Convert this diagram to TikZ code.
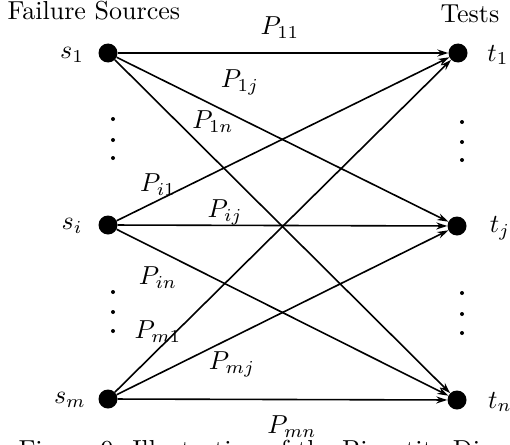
\documentclass[tikz,border=0pt]{standalone}
\usetikzlibrary{arrows.meta}
\begin{document}
\begin{tikzpicture}[x=1pt,y=-1pt,
  vert/.style={circle,fill=black,inner sep=0pt,minimum size=19pt},
  edge/.style={line width=1.6pt,-{Stealth[length=11pt,width=7pt]}},
  lbl/.style={inner sep=0pt,scale=2.6},
  vdot/.style={circle,fill=black,inner sep=0pt,minimum size=4pt}]
\useasboundingbox (0,0) rectangle (510,444);
% titles
\node[lbl,anchor=base west] (fs) at (7,20) {Failure Sources};
\node[lbl,anchor=base west] (ts) at (440,23) {Tests};
% vertices
\node[vert] (s1) at (108,53) {};
\node[vert] (si) at (108,225) {};
\node[vert] (sm) at (108,399) {};
\node[vert] (t1) at (458,53) {};
\node[vert] (tj) at (457,226) {};
\node[vert] (tn) at (457,400) {};
% vertex labels
\node[lbl] (ls1) at (72,55) {$s_1$};
\node[lbl] (lsi) at (72,226) {$s_i$};
\node[lbl] (lsm) at (70,400) {$s_m$};
\node[lbl] (lt1) at (498,55) {$t_1$};
\node[lbl] (ltj) at (500,228) {$t_j$};
\node[lbl] (ltn) at (500,402) {$t_n$};
% vertical dots
\foreach \y [count=\k] in {119,140,158,292,312,331} \node[vdot] (ld\k) at (113,\y) {};
\foreach \y [count=\k] in {122,142,160,293,314,333} \node[vdot] (rd\k) at (462,\y) {};
% edges
\foreach \s in {s1,si,sm}
  \foreach \t in {t1,tj,tn}
    \draw[edge] (\s) -- (\t);
% edge labels
\node[lbl] (p11) at (280,28) {$P_{11}$};
\node[lbl] (p1j) at (240,82) {$P_{1j}$};
\node[lbl] (p1n) at (213,122) {$P_{1n}$};
\node[lbl] (pi1) at (158,185) {$P_{i1}$};
\node[lbl] (pij) at (225,212) {$P_{ij}$};
\node[lbl] (pin) at (158,278) {$P_{in}$};
\node[lbl] (pm1) at (158,332) {$P_{m1}$};
\node[lbl] (pmj) at (232,364) {$P_{mj}$};
\node[lbl] (pmn) at (292,427) {$P_{mn}$};
% caption (cut off by the frame)
\node[lbl,anchor=base west] (cap) at (18,458) {Figure 9: Illustration of the Bipartite Diagram};
\end{tikzpicture}
\end{document}
